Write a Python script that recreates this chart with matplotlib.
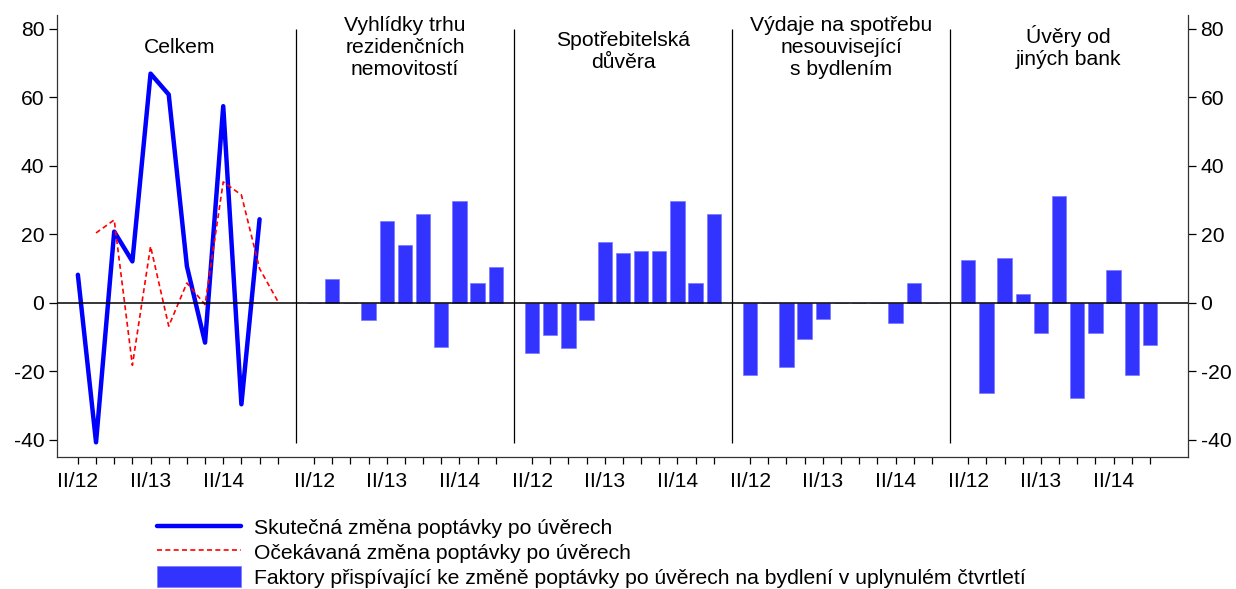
import numpy as np
import matplotlib.pyplot as plt

plt.rcParams['font.family'] = ['Liberation Sans', 'DejaVu Sans']
plt.rcParams['axes.unicode_minus'] = False

# quarters shown in each panel (first panel has one more quarter for the expected line)
quarters = ["II/12", "III/12", "IV/12", "I/13", "II/13", "III/13", "IV/13",
            "I/14", "II/14", "III/14", "IV/14", "I/15"]

panel_titles = ["Celkem", "Vyhlídky trhu\nrezidenčních\nnemovitostí",
                "Spotřebitelská\ndůvěra", "Výdaje na spotřebu\nnesouvisející\ns bydlením",
                "Úvěry od\njiných bank"]

# Celkem panel
actual_change = [8.2, -40.7, 20.8, 12.1, 66.9, 60.8, 10.7, -11.6, 57.4, -29.6, 24.4, np.nan]
expected_change = [np.nan, 20.4, 24.2, -18.2, 16.5, -6.8, 5.8, -0.5, 35.3, 31.5, 10.0, 0.5]

# factor panels (II/12 .. IV/14)
vyhlidky = [0, 7.0, 0, -4.9, 23.9, 16.8, 26.0, -12.9, 29.6, 5.8, 10.6]
duvera = [-14.5, -9.5, -13.1, -4.9, 17.9, 14.5, 15.0, 15.2, 29.6, 5.8, 25.9]
vydaje = [-21.0, 0, -18.6, -10.5, -4.6, 0, 0, 0, -5.8, 5.8, 0]
uvery = [12.6, -26.2, 13.1, 2.6, -8.7, 31.2, -27.8, -8.9, 9.5, -21.0, -12.2]
factors = [vyhlidky, duvera, vydaje, uvery]

line_blue = "#0000ff"
bar_blue = "#3333ff"
fs = 15.2

fig = plt.figure(figsize=(12.36, 5.89), dpi=100)
ax = fig.add_axes([0.0461, 0.224, 0.9151, 0.7505])

# x positions: each panel followed by one empty slot for the separator
lengths = [len(actual_change)] + [len(f) for f in factors]
starts = []
pos = 0
for n in lengths:
    starts.append(pos)
    pos += n + 1
separators = [s - 1 for s in starts[1:]]

x0 = np.arange(lengths[0]) + starts[0]
ax.plot(x0, actual_change, color=line_blue, lw=3.2, solid_capstyle="round",
        label="Skutečná změna poptávky po úvěrech", zorder=3)
ax.plot(x0, expected_change, color="red", lw=1.2, ls=(0, (3, 2)),
        label="Očekávaná změna poptávky po úvěrech", zorder=3)

for i, vals in enumerate(factors):
    xs = np.arange(len(vals)) + starts[i + 1]
    ax.bar(xs, vals, width=0.79, color=bar_blue, edgecolor="#7070ff", linewidth=0.4,
           label="Faktory přispívající ke změně poptávky po úvěrech na bydlení v uplynulém čtvrtletí" if i == 0 else None,
           zorder=2)

ax.axhline(0, color="black", lw=1.1, zorder=4)
ax.vlines(separators, -41, 80, color="black", lw=0.9)

# ticks
tick_pos = []
tick_lab = []
for s, n in zip(starts, lengths):
    for k in range(n):
        tick_pos.append(s + k)
        tick_lab.append(quarters[k] if quarters[k].startswith("II/") else "")
ax.set_xticks(tick_pos)
ax.set_xticklabels(tick_lab)
ax.set_xlim(-1.15, 61.1)
ax.set_ylim(-45, 84)
ax.set_yticks(range(-40, 81, 20))

ax.spines["top"].set_visible(False)
for side in ["left", "right", "bottom"]:
    ax.spines[side].set_linewidth(0.9)
    ax.spines[side].set_color("#333333")
ax.tick_params(axis="y", direction="out", length=6, width=0.9, labelsize=fs,
               left=True, right=True, labelleft=True, labelright=True, pad=3)
ax.tick_params(axis="x", direction="out", length=5, width=0.9, labelsize=fs, pad=6)

title_y = [74.6, 74.6, 73.4, 74.6, 74.6]
title_dx = [0.1, 0, 0, 0, 0.5]
for s, n, t, ty, dx in zip(starts, lengths, panel_titles, title_y, title_dx):
    ax.text(s + (n - 1) / 2 + dx, ty, t, ha="center", va="center", fontsize=fs,
            linespacing=1.2)

fig.legend(loc="upper left", bbox_to_anchor=(0.1205, 0.137), frameon=False,
           fontsize=fs, handlelength=3.95, handleheight=1.15, handletextpad=0.62,
           labelspacing=0.14, borderaxespad=0)

fig.savefig("out.png", dpi=100)
